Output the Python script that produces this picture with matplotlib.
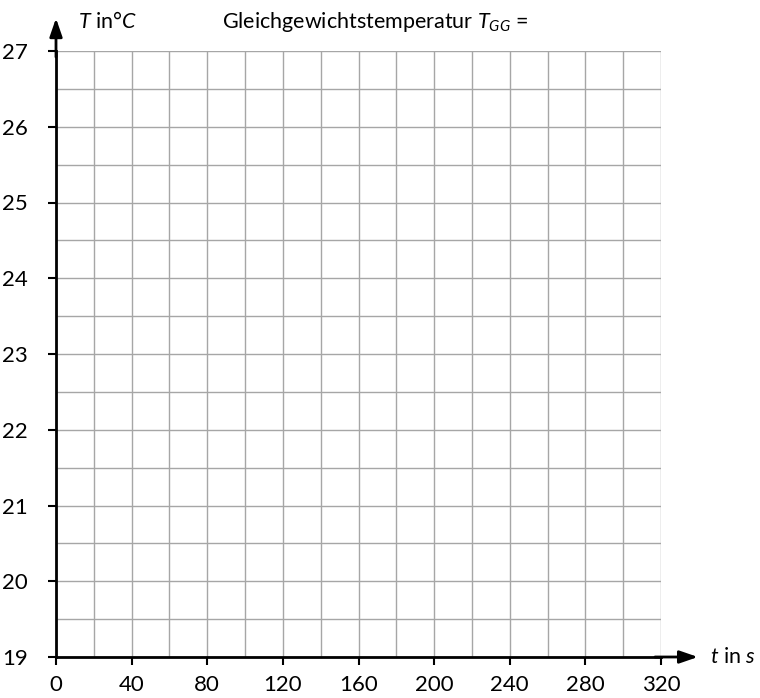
import matplotlib
matplotlib.use("Agg")
import matplotlib.pyplot as plt
import numpy as np

x_ticks = [0, 40, 80, 120, 160, 200, 240, 280, 320]
y_ticks = [19, 20, 21, 22, 23, 24, 25, 26, 27]
x_minor_step = 20
y_minor_step = 0.5

plt.rcParams['font.family'] = ['Lato', 'DejaVu Sans']
plt.rcParams['mathtext.fontset'] = 'custom'
plt.rcParams['mathtext.rm'] = 'Lato'
plt.rcParams['mathtext.it'] = 'Lato:italic'

fig = plt.figure(figsize=(7.6, 6.98), dpi=100)
ax = fig.add_axes([56/760, 1-657/698, 605/760, 606/698])
ax.set_xlim(x_ticks[0], x_ticks[-1])
ax.set_ylim(y_ticks[0], y_ticks[-1])

ax.set_xticks(x_ticks)
ax.set_yticks(y_ticks)
ax.set_xticks(np.arange(x_ticks[0], x_ticks[-1] + 1, x_minor_step), minor=True)
ax.set_yticks(np.arange(y_ticks[0], y_ticks[-1] + 0.01, y_minor_step), minor=True)
ax.grid(which='both', color='#a6a6a6', linewidth=1.0)
ax.tick_params(which='minor', length=0)
ax.tick_params(which='major', length=6, width=1.5, color='black', labelsize=16)
ax.tick_params(axis='x', pad=7)
ax.tick_params(axis='y', pad=14)
ax.set_axisbelow(True)

for s in ['top', 'right']:
    ax.spines[s].set_visible(False)
for s in ['left', 'bottom']:
    ax.spines[s].set_linewidth(2)
    ax.spines[s].set_zorder(5)

ax.annotate('', xy=(1.061, 0), xytext=(0.99, 0), xycoords='axes fraction',
            arrowprops=dict(arrowstyle='-|>,head_length=1.1,head_width=0.38', color='black', lw=2,
                            shrinkA=0, shrinkB=0), annotation_clip=False)
ax.annotate('', xy=(0, 1.054), xytext=(0, 0.99), xycoords='axes fraction',
            arrowprops=dict(arrowstyle='-|>,head_length=1.1,head_width=0.38', color='black', lw=2,
                            shrinkA=0, shrinkB=0), annotation_clip=False)

fig.text(78/760, 1-22/698, r"$T$ in$°C$", fontsize=15.5, va='center', ha='left')
fig.text(222/760, 1-22/698, r"Gleichgewichtstemperatur $T_{GG}$ =", fontsize=15.5, va='center', ha='left')
fig.text(710/760, 1-657/698, r"$t$ in $s$", fontsize=15.5, va='center', ha='left')

fig.savefig('out.png', dpi=100)
